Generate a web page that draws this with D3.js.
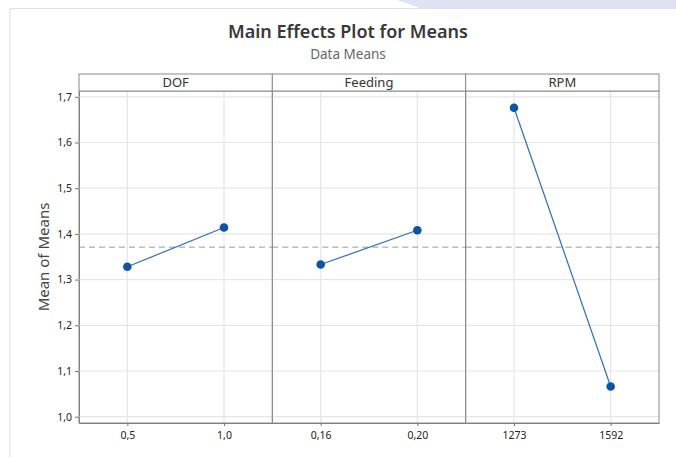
<!DOCTYPE html>
<html lang="en">
<head>
    <meta charset="UTF-8">
    <title>Main Effects Plot for Means</title>
    <script src="https://cdnjs.cloudflare.com/ajax/libs/d3/7.8.5/d3.min.js"></script>
    <style>
        body {
            margin: 0;
            background-color: #ffffff;
            font-family: "Noto Sans", "Open Sans", sans-serif;
        }
        svg { display: block; }
    </style>
</head>
<body>
    <div id="chart"></div>

    <script>
        // Data
        const factors = ["DOF", "Feeding", "RPM"];
        const levels = [["0,5", "1,0"], ["0,16", "0,20"], ["1273", "1592"]];
        const means = [[1.328, 1.414], [1.333, 1.408], [1.676, 1.066]];
        const grandMean = 1.371;
        const yTicks = [1.0, 1.1, 1.2, 1.3, 1.4, 1.5, 1.6, 1.7];

        const W = 676, H = 457;
        const plot = {left: 79, right: 659, top: 91, bottom: 423, stripTop: 74};
        const panelW = (plot.right - plot.left) / factors.length;

        const svg = d3.select("#chart")
            .append("svg")
                .attr("width", W)
                .attr("height", H);

        // Screenshot background: light blue band top-right and card frame
        svg.append("polygon")
            .attr("points", `397,0 ${W},0 ${W},8 420,8`)
            .attr("fill", "#dde3f2");
        svg.append("path")
            .attr("d", `M10,${H} V8.5 H${W}`)
            .attr("fill", "none")
            .attr("stroke", "#e2e2e2")
            .attr("stroke-width", 1.2);

        // Title
        svg.append("text")
            .attr("x", 348)
            .attr("y", 38)
            .attr("text-anchor", "middle")
            .attr("font-size", 18)
            .attr("font-weight", 600)
            .attr("fill", "#383838")
            .text("Main Effects Plot for Means");

        svg.append("text")
            .attr("x", 348)
            .attr("y", 59)
            .attr("text-anchor", "middle")
            .attr("font-size", 13.5)
            .attr("fill", "#666")
            .text("Data Means");

        // Y scale shared by the panels
        const y = d3.scaleLinear()
            .domain([0.9862, 1.7127])
            .range([plot.bottom, plot.top]);

        const commaLocale = d3.formatLocale({decimal: ",", thousands: ".", grouping: [3], currency: ["", ""]});
        const fmt = commaLocale.format(".1f");

        // Y axis
        const yAxis = svg.append("g")
            .attr("transform", `translate(${plot.left},0)`)
            .call(d3.axisLeft(y)
                .tickValues(yTicks)
                .tickFormat(fmt)
                .tickSize(4)
                .tickSizeOuter(0)
                .tickPadding(3));
        yAxis.select(".domain").attr("stroke", "#777");
        yAxis.selectAll(".tick line").attr("stroke", "#777");
        yAxis.selectAll(".tick text")
            .attr("font-family", "Noto Sans")
            .attr("font-size", 10.5)
            .attr("fill", "#222");

        // Y axis label
        svg.append("text")
            .attr("transform", `translate(48.5,${(plot.top + plot.bottom) / 2}) rotate(-90)`)
            .attr("text-anchor", "middle")
            .attr("font-size", 15)
            .attr("fill", "#444")
            .text("Mean of Means");

        const line = d3.line();

        factors.forEach((name, i) => {
            const x0 = plot.left + i * panelW;
            const x = d3.scalePoint()
                .domain(levels[i])
                .range([x0, x0 + panelW])
                .padding(0.5);

            const g = svg.append("g");

            // Grid
            g.selectAll(".hgrid")
                .data(yTicks)
                .join("line")
                    .attr("x1", x0)
                    .attr("x2", x0 + panelW)
                    .attr("y1", d => y(d))
                    .attr("y2", d => y(d))
                    .attr("stroke", "#e6e6e6")
                    .attr("stroke-width", 1.2);
            g.selectAll(".vgrid")
                .data(levels[i])
                .join("line")
                    .attr("x1", d => x(d))
                    .attr("x2", d => x(d))
                    .attr("y1", plot.top)
                    .attr("y2", plot.bottom)
                    .attr("stroke", "#e6e6e6")
                    .attr("stroke-width", 1.2);

            // Reference line at the grand mean
            g.append("line")
                .attr("x1", x0)
                .attr("x2", x0 + panelW)
                .attr("y1", y(grandMean))
                .attr("y2", y(grandMean))
                .attr("stroke", "#9a9a9a")
                .attr("stroke-dasharray", "6,4");

            // Means line + points
            const pts = levels[i].map((lv, j) => [x(lv), y(means[i][j])]);
            g.append("path")
                .attr("d", line(pts))
                .attr("fill", "none")
                .attr("stroke", "#2a6fc0")
                .attr("stroke-width", 1.2);
            g.selectAll("circle")
                .data(pts)
                .join("circle")
                    .attr("cx", d => d[0])
                    .attr("cy", d => d[1])
                    .attr("r", 4.3)
                    .attr("fill", "#0b55a3");

            // X axis
            const xAxis = g.append("g")
                .attr("transform", `translate(0,${plot.bottom})`)
                .call(d3.axisBottom(x).tickSize(3).tickSizeOuter(0).tickPadding(6));
            xAxis.select(".domain").attr("stroke", "#777");
            xAxis.selectAll(".tick line").attr("stroke", "#777");
            xAxis.selectAll(".tick text")
                .attr("font-family", "Noto Sans")
                .attr("font-size", 10.5)
                .attr("fill", "#222");

            // Panel frame
            g.append("rect")
                .attr("x", x0)
                .attr("y", plot.top)
                .attr("width", panelW)
                .attr("height", plot.bottom - plot.top)
                .attr("fill", "none")
                .attr("stroke", "#8a8a8a");

            // Strip header
            g.append("rect")
                .attr("x", x0)
                .attr("y", plot.stripTop)
                .attr("width", panelW)
                .attr("height", plot.top - plot.stripTop)
                .attr("fill", "#fff")
                .attr("stroke", "#8a8a8a");
            g.append("text")
                .attr("x", x0 + panelW / 2)
                .attr("y", plot.top - 4)
                .attr("text-anchor", "middle")
                .attr("font-size", 13)
                .attr("fill", "#333")
                .text(name);
        });
    </script>
</body>
</html>
